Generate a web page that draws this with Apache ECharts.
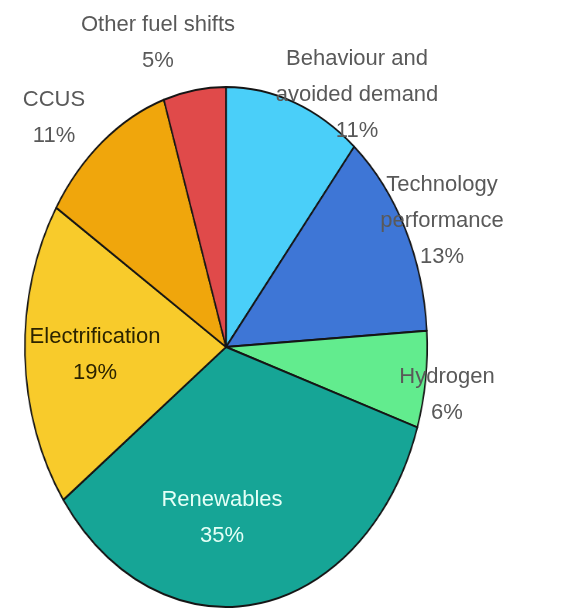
<!DOCTYPE html>
<html><head><meta charset="utf-8">
<script src="https://cdn.jsdelivr.net/npm/echarts@6/dist/echarts.min.js"></script>
<style>
html,body{margin:0;padding:0;background:#fff;overflow:hidden;width:571px;height:610px}
#pie{position:absolute;left:0;top:0;width:738px;height:610px;transform:scaleX(0.7737);transform-origin:0 0}
#lab{position:absolute;left:0;top:0;width:571px;height:610px}
</style></head><body>
<div id="pie"></div><div id="lab"></div>
<script>
// ---- data ----
const categories = ['Behaviour and\navoided demand', 'Technology\nperformance', 'Hydrogen', 'Renewables', 'Electrification', 'CCUS', 'Other fuel shifts'];
const shares = [11, 13, 6, 35, 19, 11, 5];

// ---- styles ----
const sliceColors = ['#4acff9', '#3e76d6', '#62ec8e', '#16a596', '#f8cb2b', '#f0a60c', '#e04a4a'];
const labelColors = ['#595959', '#595959', '#595959', '#e4fff6', '#2b2300', '#595959', '#595959'];
// label block centres (px) in the final picture
const labelPos = [[357, 95], [442, 221], [447, 395], [222, 518], [95, 355], [54, 118], [158, 43]];

const SX = 0.7737;
const CX = 226, CY = 347, R = 260;

const pieChart = echarts.init(document.getElementById('pie'), null, {renderer: 'canvas'});
pieChart.setOption({
  animation: false,
  series: [{
    type: 'pie',
    center: [CX / SX, CY],
    radius: R,
    startAngle: 90,
    clockwise: true,
    label: {show: false},
    labelLine: {show: false},
    silent: true,
    itemStyle: {borderColor: '#151515', borderWidth: 2},
    data: categories.map((c, i) => ({name: c, value: shares[i], itemStyle: {color: sliceColors[i]}}))
  }]
});

const labChart = echarts.init(document.getElementById('lab'), null, {renderer: 'canvas'});
labChart.setOption({
  animation: false,
  series: [{
    type: 'pie',
    center: [CX, CY],
    radius: 1,
    startAngle: 90,
    silent: true,
    itemStyle: {color: 'rgba(0,0,0,0)', borderWidth: 0},
    labelLine: {show: false},
    label: {
      show: true,
      position: 'inside',
      overflow: 'none',
      formatter: p => p.name + '\n' + p.value + '%',
      fontFamily: 'Liberation Sans, Arial, sans-serif',
      fontSize: 22,
      lineHeight: 36,
      align: 'center'
    },
    labelLayout: p => ({x: labelPos[p.dataIndex][0], y: labelPos[p.dataIndex][1], align: 'center', verticalAlign: 'middle'}),
    data: categories.map((c, i) => ({name: c, value: shares[i], label: {color: labelColors[i]}}))
  }]
});
</script>
</body></html>
